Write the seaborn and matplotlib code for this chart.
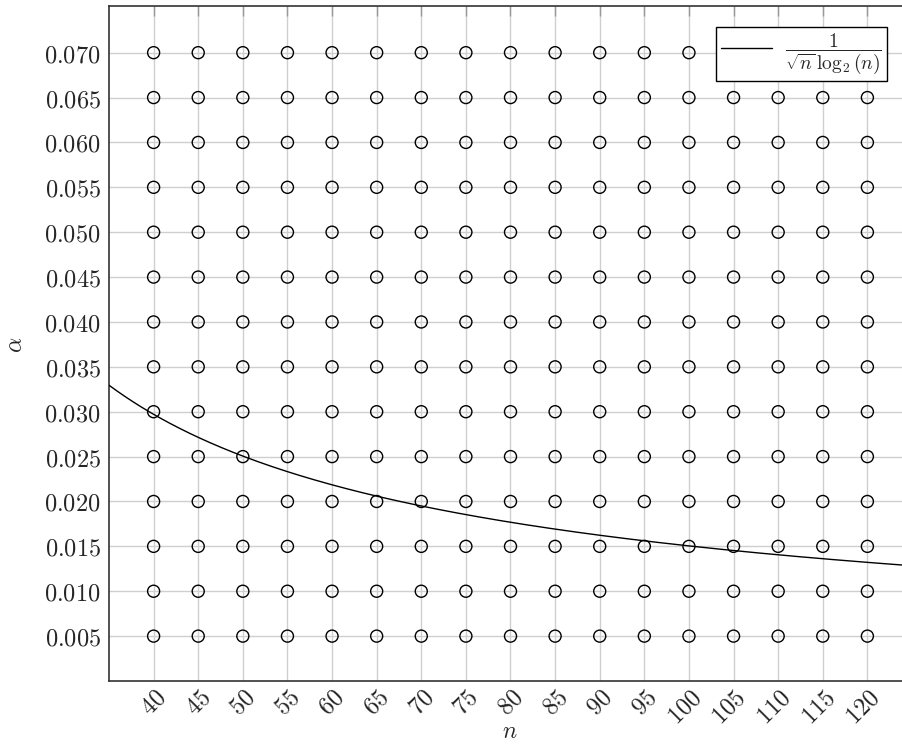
import numpy as np
import pandas as pd
import matplotlib
matplotlib.use("Agg")
import matplotlib.pyplot as plt
import seaborn as sns

# Data
n_values = [40, 45, 50, 55, 60, 65, 70, 75, 80, 85, 90, 95, 100, 105, 110, 115, 120]
alpha_values = [0.005, 0.010, 0.015, 0.020, 0.025, 0.030, 0.035,
                0.040, 0.045, 0.050, 0.055, 0.060, 0.065, 0.070]
x_ticks = n_values
y_ticks = alpha_values
curve_n = np.linspace(35, 125, 400)
curve_alpha = 1.0 / (np.sqrt(curve_n) * np.log2(curve_n))

grid_df = pd.DataFrame([(n, a) for a in alpha_values for n in n_values],
                       columns=["n", "alpha"])
curve_df = pd.DataFrame({"n": curve_n, "alpha": curve_alpha})

sns.set_style("white")
plt.rcParams["mathtext.fontset"] = "cm"

fig = plt.figure(figsize=(9.03, 7.44), dpi=100)
W, H = 903, 744
left, right, top, bottom = 109, 912, 6, 681
ax = fig.add_axes([left / W, 1 - bottom / H, (right - left) / W, (bottom - top) / H])

sns.lineplot(data=curve_df, x="n", y="alpha", ax=ax, color="black", lw=1.0,
             label=r"$\dfrac{1}{\sqrt{n}\,\log_2(n)}$", zorder=3)
sns.scatterplot(data=grid_df, x="n", y="alpha", ax=ax, marker="o", s=75,
                facecolor="none", edgecolor="black", linewidth=1.0, zorder=4)

ax.set_xlim(35, 125)
ax.set_ylim(0, 0.0752)
ax.set_xticks(x_ticks)
ax.set_xticklabels([f"${t}$" for t in x_ticks], rotation=45, ha="right",
                   va="top", rotation_mode="anchor", fontsize=17.5)
ax.set_yticks(y_ticks)
ax.set_yticklabels([f"${t:.3f}$" for t in y_ticks], fontsize=17.5)
ax.grid(True, color="#cfcfcf", lw=1.0, zorder=0)
ax.set_axisbelow(True)
ax.tick_params(axis="both", direction="in", length=7, width=1.0, color="#999999",
               top=True, right=True)
ax.tick_params(axis="x", pad=3)
ax.tick_params(axis="y", pad=6)
for s in ax.spines.values():
    s.set_color("#333333")
    s.set_linewidth(1.2)

ax.set_xlabel(r"$n$", fontsize=17)
ax.set_ylabel(r"$\alpha$", fontsize=17)
ax.xaxis.label.set_va("center")
ax.xaxis.label.set_ha("center")
ax.yaxis.label.set_va("center")
ax.yaxis.label.set_ha("center")
ax.xaxis.set_label_coords((510 - left) / (right - left), -(731 - bottom) / (bottom - top))
ax.yaxis.set_label_coords(-(109 - 15) / (right - left), 1 - (345 - top) / (bottom - top))

leg = ax.legend(loc="upper right",
                bbox_to_anchor=((887 - left) / (right - left), 1 - (27 - top) / (bottom - top)),
                fontsize=14, frameon=True, fancybox=False, framealpha=1.0,
                edgecolor="black", handlelength=2.6, handletextpad=0.7,
                borderpad=0.25, borderaxespad=0)
leg.get_frame().set_linewidth(1.0)
leg.set_zorder(10)

fig.savefig("out.png", dpi=100)
